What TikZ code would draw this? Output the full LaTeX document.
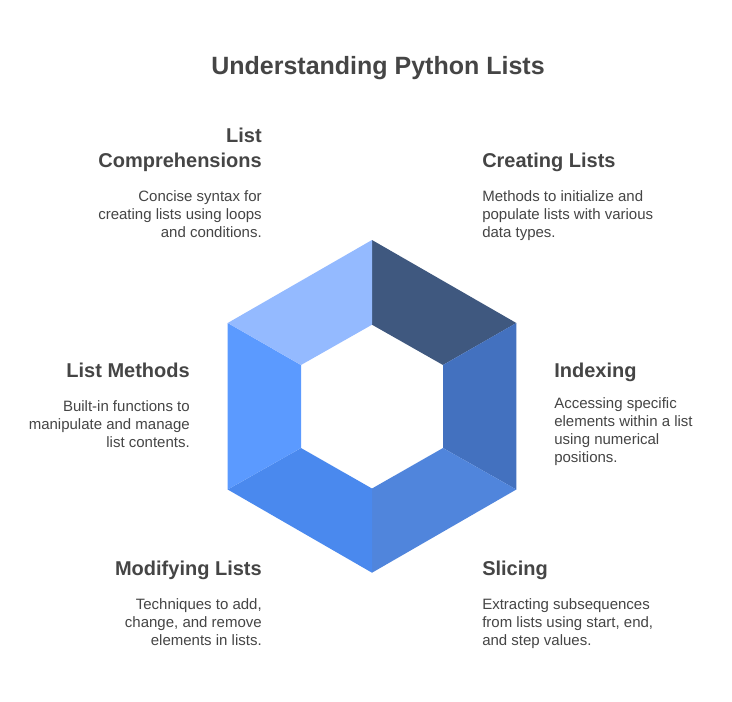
\documentclass[tikz,border=0pt]{standalone}
\usepackage{fontspec}
\setmainfont{Liberation Sans}
\definecolor{txt}{HTML}{454545}
\definecolor{segA}{HTML}{3F587F}
\definecolor{segB}{HTML}{4371BF}
\definecolor{segC}{HTML}{5085DC}
\definecolor{segD}{HTML}{4A89EE}
\definecolor{segE}{HTML}{5B9AFF}
\definecolor{segF}{HTML}{94BAFF}
\tikzset{
 px/.style={x=0.75pt,y=-0.75pt},
 heading/.style={font=\fontsize{15}{18.75}\selectfont\bfseries,text=txt,inner sep=0pt},
 body/.style={font=\fontsize{11.25}{13.5}\selectfont,text=txt,inner sep=0pt},
 lefttext/.style={align=right,anchor=north east},
 righttext/.style={align=left,anchor=north west},
 title/.style={font=\fontsize{18.75}{22}\selectfont\bfseries,text=txt,inner sep=0pt}
}
\begin{document}
\begin{tikzpicture}[px]
\useasboundingbox (0,0) rectangle (732,701);
\fill[white] (0,0) rectangle (732,701);
\fill[segA] (372,240) -- (516.3,323) -- (443,365) -- (372,324.7) -- cycle;
\fill[segB] (516.3,323) -- (516.3,489.5) -- (443,448) -- (443,365) -- cycle;
\fill[segC] (516.3,489.5) -- (372,572.7) -- (372,488.5) -- (443,448) -- cycle;
\fill[segD] (372,572.7) -- (227.7,489.5) -- (301,448) -- (372,488.5) -- cycle;
\fill[segE] (227.7,489.5) -- (227.7,323) -- (301,365) -- (301,448) -- cycle;
\fill[segF] (227.7,323) -- (372,240) -- (372,324.7) -- (301,365) -- cycle;
\node[title,anchor=center] (t) at (378,68) {Understanding Python Lists};
\node[heading,lefttext] (h1) at (262,128) {List\\Comprehensions};
\node[body,lefttext] (b1) at (262,190) {Concise syntax for\\creating lists using loops\\and conditions.};
\node[heading,righttext] (h2) at (482,153) {Creating Lists};
\node[body,righttext] (b2) at (482,190) {Methods to initialize and\\populate lists with various\\data types.};
\node[heading,lefttext] (h3) at (190,363) {List Methods};
\node[body,lefttext] (b3) at (190,400) {Built-in functions to\\manipulate and manage\\list contents.};
\node[heading,righttext] (h4) at (554,363) {Indexing};
\node[body,righttext] (b4) at (554,397) {Accessing specific\\elements within a list\\using numerical\\positions.};
\node[heading,lefttext] (h5) at (262,561) {Modifying Lists};
\node[body,lefttext] (b5) at (262,598) {Techniques to add,\\change, and remove\\elements in lists.};
\node[heading,righttext] (h6) at (482,561) {Slicing};
\node[body,righttext] (b6) at (482,598) {Extracting subsequences\\from lists using start, end,\\and step values.};
\end{tikzpicture}
\end{document}
